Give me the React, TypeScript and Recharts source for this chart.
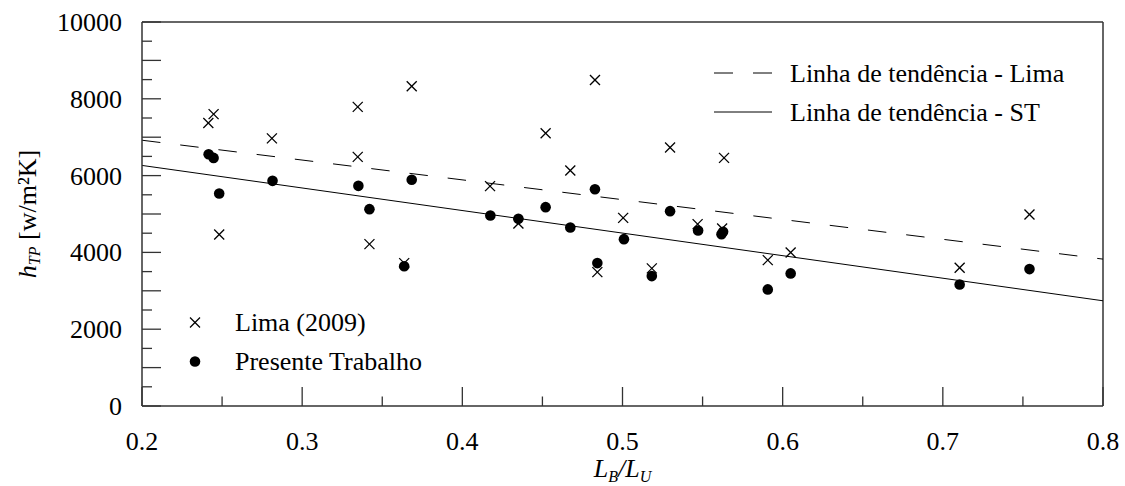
import { ScatterChart, Scatter, XAxis, YAxis, ReferenceLine } from 'recharts';

// Lima (2009) points
const limaX = [
  0.2414, 0.2447, 0.2482, 0.2811, 0.3347, 0.3347, 0.342, 0.3637, 0.3684, 0.4173, 0.435, 0.452,
  0.4674, 0.4828, 0.4843, 0.5004, 0.5183, 0.5297, 0.5469, 0.5622, 0.5634, 0.5907, 0.605, 0.7105,
  0.7541,
];
const limaY = [
  7370, 7600, 4467, 6970, 7790, 6487, 4215, 3720, 8326, 5725, 4754, 7103, 6133, 8491, 3486, 4900,
  3583, 6730, 4736, 4624, 6461, 3799, 3999, 3599, 4988,
];

// Presente Trabalho points
const presX = [
  0.2416, 0.2447, 0.2482, 0.2815, 0.3351, 0.342, 0.3637, 0.3684, 0.4175, 0.435, 0.452, 0.4674,
  0.4828, 0.4843, 0.5009, 0.5183, 0.5297, 0.5472, 0.5618, 0.5628, 0.5907, 0.605, 0.7105, 0.7541,
];
const presY = [
  6557, 6461, 5534, 5863, 5733, 5126, 3640, 5890, 4962, 4874, 5178, 4650, 5646, 3721, 4345, 3383,
  5074, 4571, 4475, 4535, 3036, 3453, 3166, 3565,
];

// trend lines (endpoints)
const trendX = [0.2, 0.8];
const trendLima = [6921, 3825];
const trendST = [6265, 2740];

const xTicks = [0.2, 0.25, 0.3, 0.35, 0.4, 0.45, 0.5, 0.55, 0.6, 0.65, 0.7, 0.75, 0.8];
const yTicks = [
  0, 500, 1000, 1500, 2000, 2500, 3000, 3500, 4000, 4500, 5000, 5500, 6000, 6500, 7000, 7500, 8000,
  8500, 9000, 9500, 10000,
];

const limaData = limaX.map((x, i) => ({ x, y: limaY[i] }));
const presData = presX.map((x, i) => ({ x, y: presY[i] }));

const FONT = '"Liberation Serif", "Times New Roman", serif';
const FS = 26;
const INK = '#000';
const AXIS = '#333';

const Cross = (props: any) => {
  const { cx, cy } = props;
  const s = 5;
  return (
    <g stroke={INK} strokeWidth={1.3}>
      <line x1={cx - s} y1={cy - s} x2={cx + s} y2={cy + s} />
      <line x1={cx - s} y1={cy + s} x2={cx + s} y2={cy - s} />
    </g>
  );
};

const Dot = (props: any) => <circle cx={props.cx} cy={props.cy} r={5.3} fill={INK} />;

const YTick = (props: any) => {
  const { x, y, payload } = props;
  const v = payload.value;
  const len = v % 1000 === 0 ? 19 : 10;
  return (
    <g>
      <line x1={x} x2={x + len} y1={y} y2={y} stroke={AXIS} strokeWidth={1.3} />
      {v % 2000 === 0 && (
        <text x={x - 20} y={y} dy={9} textAnchor="end" fontFamily={FONT} fontSize={FS} fill={INK}>
          {v}
        </text>
      )}
    </g>
  );
};

const XTick = (props: any) => {
  const { x, y, payload } = props;
  const v = payload.value;
  const major = Math.round(v * 100) % 10 === 0;
  return (
    <g>
      <line x1={x} x2={x} y1={y} y2={y - (major ? 19 : 9.5)} stroke={AXIS} strokeWidth={1.3} />
      {major && (
        <text x={x} y={y + 44} textAnchor="middle" fontFamily={FONT} fontSize={FS} fill={INK}>
          {v.toFixed(1)}
        </text>
      )}
    </g>
  );
};

const yTitle = (props: any) => {
  const vb = props.viewBox;
  const cx = vb.x + vb.width - 106;
  const cy = vb.y + vb.height / 2;
  return (
    <text
      transform={`translate(${cx},${cy}) rotate(-90)`}
      textAnchor="middle"
      fontFamily={FONT}
      fontSize={FS}
      fill={INK}
    >
      <tspan fontStyle="italic">h</tspan>
      <tspan fontStyle="italic" fontSize={16} dy={4}>TP</tspan>
      <tspan dy={-4}> [w/m²K]</tspan>
    </text>
  );
};

const xTitle = (props: any) => {
  const vb = props.viewBox;
  const cx = vb.x + vb.width / 2;
  return (
    <text x={cx} y={vb.y + 71} textAnchor="middle" fontFamily={FONT} fontSize={FS} fill={INK} fontStyle="italic">
      <tspan>L</tspan>
      <tspan fontSize={16} dy={5}>B</tspan>
      <tspan dy={-5}>/L</tspan>
      <tspan fontSize={16} dy={5}>U</tspan>
    </text>
  );
};

const legendText: React.CSSProperties = {
  position: 'absolute',
  fontFamily: FONT,
  fontSize: FS,
  lineHeight: '30px',
  color: INK,
  whiteSpace: 'nowrap',
};

export default function App() {
  return (
    <div style={{ position: 'absolute', left: 0, top: 0, width: 1125, height: 486, background: '#fff' }}>
      <ScatterChart width={1125} height={486} margin={{ top: 22, right: 22, bottom: 20, left: 82 }}>
        <XAxis
          dataKey="x"
          type="number"
          domain={[0.2, 0.8]}
          ticks={xTicks}
          interval={0}
          height={60}
          tickSize={0}
          tickMargin={0}
          tick={<XTick />}
          axisLine={{ stroke: AXIS, strokeWidth: 1.5 }}
          label={xTitle}
        />
        <YAxis
          dataKey="y"
          type="number"
          domain={[0, 10000]}
          ticks={yTicks}
          interval={0}
          width={60}
          tickSize={0}
          tickMargin={0}
          tick={<YTick />}
          axisLine={{ stroke: AXIS, strokeWidth: 1.5 }}
          label={yTitle}
        />
        <ReferenceLine y={10000} stroke={AXIS} strokeWidth={1.5} />
        <ReferenceLine x={0.8} stroke={AXIS} strokeWidth={1.5} />
        <ReferenceLine
          segment={[
            { x: trendX[0], y: trendLima[0] },
            { x: trendX[1], y: trendLima[1] },
          ]}
          stroke={INK}
          strokeWidth={1}
          strokeDasharray="18.5 20"
        />
        <ReferenceLine
          segment={[
            { x: trendX[0], y: trendST[0] },
            { x: trendX[1], y: trendST[1] },
          ]}
          stroke={INK}
          strokeWidth={1}
        />
        <Scatter data={limaData} shape={<Cross />} isAnimationActive={false} />
        <Scatter data={presData} shape={<Dot />} isAnimationActive={false} />
      </ScatterChart>

      {/* legend samples */}
      <svg style={{ position: 'absolute', left: 0, top: 0 }} width={1125} height={486} pointerEvents="none">
        <line x1={714} x2={772} y1={73} y2={73} stroke={INK} strokeWidth={1} strokeDasharray="19 20" />
        <line x1={714} x2={772} y1={112} y2={112} stroke={INK} strokeWidth={1} />
        <Cross cx={195} cy={322.5} />
        <Dot cx={195} cy={361.5} />
      </svg>
      <div style={{ ...legendText, left: 790, top: 59 }}>Linha de tendência - Lima</div>
      <div style={{ ...legendText, left: 790, top: 98 }}>Linha de tendência - ST</div>
      <div style={{ ...legendText, left: 235, top: 308 }}>Lima (2009)</div>
      <div style={{ ...legendText, left: 235, top: 347 }}>Presente Trabalho</div>
    </div>
  );
}
